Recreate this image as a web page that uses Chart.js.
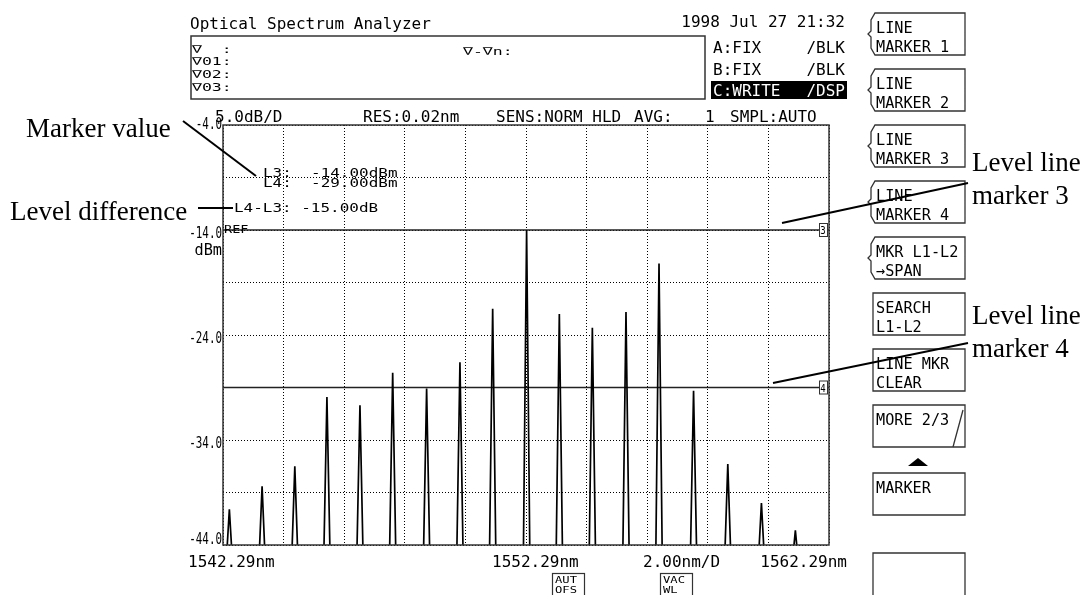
<!DOCTYPE html>
<html>
<head>
<meta charset="utf-8">
<script src="https://cdn.jsdelivr.net/npm/chart.js@4.4.1/dist/chart.umd.min.js"></script>
<style>
  html, body { margin: 0; padding: 0; background: #fff; }
  #wrap { position: relative; width: 1087px; height: 595px; }
  canvas { display: block; }
</style>
</head>
<body>
<div id="wrap"><canvas id="c" width="1087" height="595"></canvas></div>
<script>
// ---------- data ----------
const peakWavelengths = [1542.50, 1543.58, 1544.66, 1545.72, 1546.81, 1547.89, 1549.01, 1550.11, 1551.19,
                         1552.31, 1553.39, 1554.48, 1555.59, 1556.68, 1557.82, 1558.95, 1560.06, 1561.18];
const peakLevels = [-40.6, -38.4, -36.5, -29.9, -30.7, -27.6, -29.1, -26.6, -21.5,
                    -14.0, -22.0, -23.3, -21.8, -17.2, -29.3, -36.3, -40.0, -42.6];
const noiseFloor = -46;            // below the displayed range
const peakHalfWidth = 0.11;        // nm, base half-width of each spectral line

const levelMarkerValues = [-14.0, -29.0];   // L3, L4 (dBm)
const levelMarkerNames = ['3', '4'];

const xGridValues = [1542.29, 1544.29, 1546.29, 1548.29, 1550.29, 1552.29, 1554.29, 1556.29, 1558.29, 1560.29, 1562.29];
const yGridValues = [-44, -39, -34, -29, -24, -19, -14, -9, -4];
const yLabelValues = [-4, -14, -24, -34, -44];
const yLabels = ['-4.0', '-14.0', '-24.0', '-34.0', '-44.0'];
const xLabels = ['1542.29nm', '1552.29nm', '2.00nm/D', '1562.29nm'];

const markerLines = ['L3:  -14.00dBm', 'L4:  -29.00dBm', 'L4-L3: -15.00dB'];

// ---------- build trace ----------
const trace = [];
peakWavelengths.forEach((c, i) => {
  trace.push({ x: c - peakHalfWidth, y: noiseFloor });
  trace.push({ x: c, y: peakLevels[i] });
  trace.push({ x: c + peakHalfWidth, y: noiseFloor });
});
const xMin = xGridValues[0], xMax = xGridValues[xGridValues.length - 1];
const levelDatasets = levelMarkerValues.map(v => ({
  data: [{ x: xMin, y: v }, { x: xMax, y: v }],
  showLine: true, borderColor: '#222', borderWidth: 1.4, pointRadius: 0, clip: 0
}));

// ---------- text helper ----------
const MONO = '"DejaVu Sans Mono", "Liberation Mono", monospace';
const SERIF = '"Liberation Serif", "Times New Roman", serif';
function txt(ctx, s, x, y, size, sx, opt) {
  opt = opt || {};
  ctx.save();
  ctx.font = (opt.weight ? opt.weight + ' ' : '') + size + 'px ' + (opt.family || MONO);
  ctx.translate(x, y);
  ctx.scale(sx, 1);
  ctx.textAlign = opt.align || 'left';
  ctx.textBaseline = 'alphabetic';
  ctx.fillStyle = opt.color || '#000';
  ctx.fillText(s, 0, 0);
  ctx.restore();
}
function line(ctx, x1, y1, x2, y2, w, col) {
  ctx.save();
  ctx.beginPath(); ctx.moveTo(x1, y1); ctx.lineTo(x2, y2);
  ctx.lineWidth = w; ctx.strokeStyle = col || '#000'; ctx.stroke();
  ctx.restore();
}

const softkeys = [
  { top: 13,  l1: 'LINE', l2: 'MARKER 1', br: true },
  { top: 69,  l1: 'LINE', l2: 'MARKER 2', br: true },
  { top: 125, l1: 'LINE', l2: 'MARKER 3', br: true },
  { top: 181, l1: 'LINE', l2: 'MARKER 4', br: true },
  { top: 237, l1: 'MKR L1-L2', l2: '\u2192SPAN', br: true },
  { top: 293, l1: 'SEARCH', l2: 'L1-L2', br: false },
  { top: 349, l1: 'LINE MKR', l2: 'CLEAR', br: false },
  { top: 405, l1: 'MORE 2/3', l2: '', br: false, diag: true },
  { top: 473, l1: 'MARKER', l2: '', br: false },
  { top: 553, l1: '', l2: '', br: false, h: 50 }
];

const decor = {
  id: 'decor',
  afterDraw(chart) {
    const ctx = chart.ctx;
    const ys = chart.scales.y;
    const ca = chart.chartArea;

    // plot frame
    ctx.save();
    ctx.strokeStyle = '#333'; ctx.lineWidth = 1.5;
    ctx.strokeRect(ca.left, ca.top, ca.right - ca.left, ca.bottom - ca.top);
    ctx.restore();

    // y labels
    yLabelValues.forEach((v, i) => {
      let y = ys.getPixelForValue(v) + 8;
      if (i === yLabels.length - 1) y = ys.getPixelForValue(v) - 1;
      if (i === 0) y = ys.getPixelForValue(v) + 4;
      txt(ctx, yLabels[i], ca.left - 1, y, 16, 0.68, { align: 'right' });
    });
    txt(ctx, 'dBm', ca.left - 1, ys.getPixelForValue(-14) + 25, 16, 0.95, { align: 'right' });
    txt(ctx, 'REF', ca.left + 1, ys.getPixelForValue(-14) + 3, 10, 1.35);

    // x labels
    const xb = 567;
    txt(ctx, xLabels[0], 188, xb, 16, 1.0);
    txt(ctx, xLabels[1], 492, xb, 16, 1.0);
    txt(ctx, xLabels[2], 643, xb, 16, 1.0);
    txt(ctx, xLabels[3], 847, xb, 16, 1.0, { align: 'right' });

    // small boxed flags under axis
    [[552, 'AUT', 'OFS'], [660, 'VAC', 'WL']].forEach(b => {
      ctx.save(); ctx.strokeStyle = '#333'; ctx.lineWidth = 1.2;
      ctx.strokeRect(b[0] + 0.5, 573.5, 32, 26); ctx.restore();
      txt(ctx, b[1], b[0] + 3, 583, 9, 1.35);
      txt(ctx, b[2], b[0] + 3, 593, 9, 1.35);
    });

    // level line marker boxes
    levelMarkerValues.forEach((v, i) => {
      const y = ys.getPixelForValue(v);
      ctx.save();
      ctx.fillStyle = '#fff'; ctx.fillRect(ca.right - 10, y - 7, 8, 14);
      ctx.strokeStyle = '#333'; ctx.lineWidth = 1; ctx.strokeRect(ca.right - 10 + 0.5, y - 6.5, 8, 13);
      ctx.restore();
      txt(ctx, levelMarkerNames[i], ca.right - 6, y + 4, 10, 0.9, { align: 'center' });
    });

    // marker readout inside plot
    txt(ctx, markerLines[0], 263, 177, 12, 1.33);
    txt(ctx, markerLines[1], 263, 187, 12, 1.33);
    txt(ctx, markerLines[2], 234, 212, 12, 1.33);

    // header
    txt(ctx, 'Optical Spectrum Analyzer', 190, 29, 16, 1.0);
    txt(ctx, '1998 Jul 27 21:32', 845, 27, 16, 1.0, { align: 'right' });
    ctx.save(); ctx.strokeStyle = '#333'; ctx.lineWidth = 1.5;
    ctx.strokeRect(191, 36, 514, 63); ctx.restore();
    txt(ctx, '\u2207  :', 192, 53, 11, 1.5);
    txt(ctx, '\u220701:', 192, 65, 11, 1.5);
    txt(ctx, '\u220702:', 192, 78, 11, 1.5);
    txt(ctx, '\u220703:', 192, 91, 11, 1.5);
    txt(ctx, '\u2207-\u2207n:', 463, 55, 11, 1.5);

    txt(ctx, 'A:FIX', 713, 53, 16, 1.0);
    txt(ctx, '/BLK', 845, 53, 16, 1.0, { align: 'right' });
    txt(ctx, 'B:FIX', 713, 75, 16, 1.0);
    txt(ctx, '/BLK', 845, 75, 16, 1.0, { align: 'right' });
    ctx.save(); ctx.fillStyle = '#000'; ctx.fillRect(711, 81, 136, 18); ctx.restore();
    txt(ctx, 'C:WRITE', 713, 96, 16, 1.0, { color: '#fff' });
    txt(ctx, '/DSP', 845, 96, 16, 1.0, { align: 'right', color: '#fff' });

    txt(ctx, '5.0dB/D', 215, 122, 16, 1.0);
    txt(ctx, 'RES:0.02nm', 363, 122, 16, 1.0);
    txt(ctx, 'SENS:NORM HLD', 496, 122, 16, 1.0);
    txt(ctx, 'AVG:', 634, 122, 16, 1.0);
    txt(ctx, '1', 705, 122, 16, 1.0);
    txt(ctx, 'SMPL:AUTO', 730, 122, 16, 1.0);

    // softkeys
    softkeys.forEach(k => {
      const t = k.top, h = k.h || 42, L = 873, R = 965;
      ctx.save();
      ctx.strokeStyle = '#333'; ctx.lineWidth = 1.3;
      ctx.beginPath();
      if (k.br) {
        ctx.moveTo(R, t); ctx.lineTo(L + 2, t);
        ctx.lineTo(L - 2, t + 7); ctx.lineTo(L - 2, t + 18); ctx.lineTo(L - 5, t + 21);
        ctx.lineTo(L - 2, t + 24); ctx.lineTo(L - 2, t + 35); ctx.lineTo(L + 2, t + 42);
        ctx.lineTo(R, t + 42); ctx.closePath();
      } else {
        ctx.rect(L, t, R - L, h);
      }
      ctx.stroke();
      if (k.diag) { ctx.beginPath(); ctx.moveTo(R - 2, t + 5); ctx.lineTo(R - 12, t + h); ctx.stroke(); }
      ctx.restore();
      if (k.l1) txt(ctx, k.l1, 876, t + 20, 16, 0.95);
      if (k.l2) txt(ctx, k.l2, 876, t + 39, 16, 0.95);
    });
    // arrow triangle
    ctx.save(); ctx.fillStyle = '#000'; ctx.beginPath();
    ctx.moveTo(918, 458); ctx.lineTo(928, 466); ctx.lineTo(908, 466); ctx.closePath(); ctx.fill(); ctx.restore();

    // explanatory annotations
    txt(ctx, 'Marker value', 26, 137, 27, 1.0, { family: SERIF });
    line(ctx, 183, 121, 256, 176, 2);
    txt(ctx, 'Level difference', 10, 220, 27, 1.0, { family: SERIF });
    line(ctx, 198, 208, 233, 208, 2);
    txt(ctx, 'Level line', 972, 171, 27, 1.0, { family: SERIF });
    txt(ctx, 'marker 3', 972, 204, 27, 1.0, { family: SERIF });
    line(ctx, 782, 223, 968, 183, 2);
    txt(ctx, 'Level line', 972, 324, 27, 1.0, { family: SERIF });
    txt(ctx, 'marker 4', 972, 357, 27, 1.0, { family: SERIF });
    line(ctx, 773, 383, 968, 343, 2);
  }
};

new Chart(document.getElementById('c'), {
  type: 'scatter',
  data: {
    datasets: [
      { data: trace, showLine: true, borderColor: '#000', borderWidth: 1.7, pointRadius: 0, tension: 0 },
      ...levelDatasets
    ]
  },
  options: {
    responsive: false,
    animation: false,
    devicePixelRatio: 1,
    layout: { padding: { left: 0, top: 125, right: 258, bottom: 0 } },
    plugins: { legend: { display: false }, tooltip: { enabled: false } },
    scales: {
      x: {
        type: 'linear', min: xMin, max: xMax,
        afterBuildTicks: s => { s.ticks = xGridValues.map(v => ({ value: v })); },
        afterFit: s => { s.height = 50; },
        ticks: { display: false },
        grid: { color: '#000', lineWidth: 1, drawTicks: false },
        border: { display: false, dash: [1, 2] }
      },
      y: {
        type: 'linear', min: yGridValues[0], max: yGridValues[yGridValues.length - 1],
        afterBuildTicks: s => { s.ticks = yGridValues.map(v => ({ value: v })); },
        afterFit: s => { s.width = 223; },
        ticks: { display: false },
        grid: { color: '#000', lineWidth: 1, drawTicks: false },
        border: { display: false, dash: [1, 2] }
      }
    }
  },
  plugins: [decor]
});
</script>
</body>
</html>
